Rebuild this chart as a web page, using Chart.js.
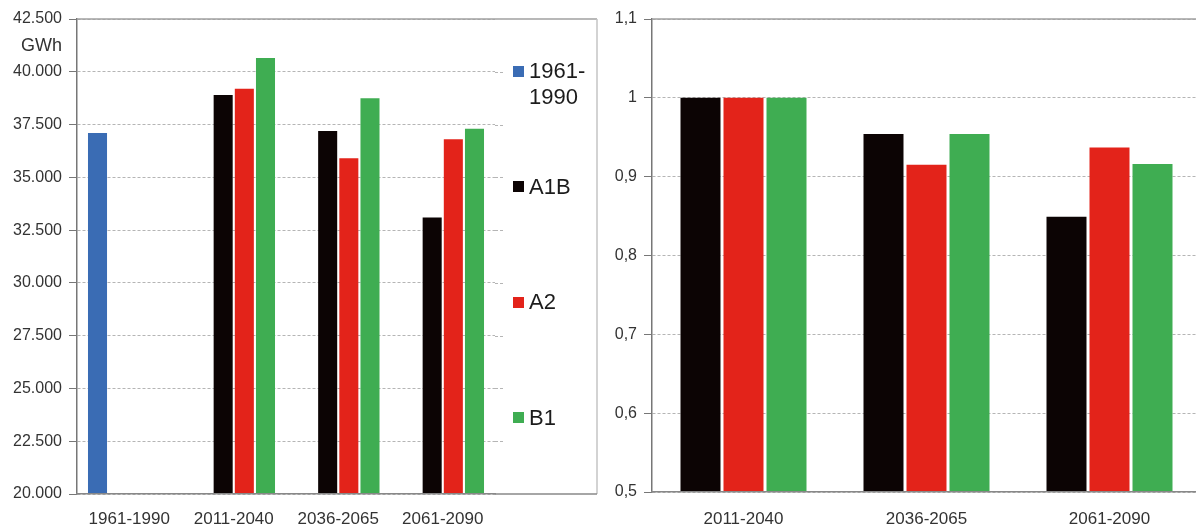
<!DOCTYPE html>
<html>
<head>
<meta charset="utf-8">
<title>GWh scenarios</title>
<script src="https://cdn.jsdelivr.net/npm/chart.js@4.4.1/dist/chart.umd.min.js"></script>
<style>
    html, body { margin: 0; padding: 0; background: #fff; overflow: hidden; }
    #wrap { position: relative; width: 1196px; height: 526px; overflow: hidden; }
    #left { position: absolute; left: 0; top: 0; }
    #right { position: absolute; left: 600px; top: 0; }
    .lg-box { position: absolute; width: 11px; height: 11px; }
    .lg-text { position: absolute; font: 22px "Liberation Sans", Arial, sans-serif; line-height: 26px; color: #1c1c1c; white-space: nowrap; }
</style>
</head>
<body>
<div id="wrap">
    <canvas id="left" width="600" height="526"></canvas>
    <canvas id="right" width="610" height="526"></canvas>
    <div id="legend"></div>
</div>
<script>
// Data
const periods = ['1961-1990', '2011-2040', '2036-2065', '2061-2090'];
const scenarioPeriods = ['2011-2040', '2036-2065', '2061-2090'];
const seriesNames = ['1961-1990', 'A1B', 'A2', 'B1'];

const gwhBaseline = [37100, null, null, null];
const gwhA1B = [null, 38900, 37200, 33100];
const gwhA2 = [null, 39200, 35900, 36800];
const gwhB1 = [null, 40650, 38750, 37300];

const ratioA1B = [1, 0.954, 0.849];
const ratioA2 = [1, 0.915, 0.937];
const ratioB1 = [1, 0.954, 0.916];

const gwhTicks = ['20.000', '22.500', '25.000', '27.500', '30.000', '32.500', '35.000', '37.500', '40.000', '42.500'];
const ratioTicks = ['0,5', '0,6', '0,7', '0,8', '0,9', '1', '1,1'];
const unitLabel = 'GWh';

const seriesColors = ['#3a6cb4', '#0c0404', '#e3231a', '#3fad52'];

Chart.defaults.font.family = '"Liberation Sans", Arial, sans-serif';
Chart.defaults.color = '#333';

// Frame round the left chart (plot + legend)
const leftFrame = {
    id: 'leftFrame',
    afterDraw(chart) {
        const { ctx, chartArea: a, scales } = chart;
        const frameRight = 597;
        ctx.save();
        // short dashed continuation of the gridlines
        ctx.strokeStyle = '#b5b5b5';
        ctx.lineWidth = 1;
        ctx.setLineDash([3, 2]);
        scales.y.ticks.slice(1, -1).forEach(t => {
            const y = Math.round(scales.y.getPixelForValue(t.value)) + 0.5;
            ctx.beginPath();
            ctx.moveTo(a.right, y);
            ctx.lineTo(a.right + 10, y);
            ctx.stroke();
        });
        ctx.setLineDash([]);
        ctx.strokeStyle = '#a0a0a0';
        ctx.lineWidth = 1.5;
        ctx.beginPath();
        ctx.moveTo(a.left, a.top);
        ctx.lineTo(frameRight, a.top);
        ctx.stroke();
        ctx.strokeStyle = '#c4c4c4';
        ctx.beginPath();
        ctx.moveTo(frameRight, a.top);
        ctx.lineTo(frameRight, a.bottom);
        ctx.stroke();
        ctx.strokeStyle = '#888';
        ctx.beginPath();
        ctx.moveTo(a.right, a.bottom);
        ctx.lineTo(frameRight, a.bottom);
        ctx.stroke();
        // unit label
        const y = (scales.y.getPixelForValue(42500) + scales.y.getPixelForValue(40000)) / 2 + 1;
        ctx.fillStyle = '#333';
        ctx.font = '18px "Liberation Sans", Arial, sans-serif';
        ctx.textAlign = 'right';
        ctx.textBaseline = 'middle';
        ctx.fillText(unitLabel, a.left - 15, y);
        ctx.restore();
    }
};

const rightFrame = {
    id: 'rightFrame',
    afterDraw(chart) {
        const { ctx, chartArea: a } = chart;
        ctx.save();
        ctx.strokeStyle = '#a0a0a0';
        ctx.lineWidth = 1.5;
        ctx.beginPath();
        ctx.moveTo(a.left, a.top);
        ctx.lineTo(chart.width, a.top);
        ctx.stroke();
        ctx.restore();
    }
};

function xScale(height, pad) {
    return {
        grid: { display: false, drawTicks: false },
        border: { color: '#888', width: 1.5, z: 1 },
        ticks: { padding: pad, font: { size: 17 }, color: '#333' },
        afterFit: s => { s.height = height; }
    };
}

function yScale(min, max, step, labels, width) {
    return {
        min: min,
        max: max,
        ticks: { stepSize: step, callback: (v, i) => labels[i], padding: 7, font: { size: 16 }, color: '#333' },
        grid: { color: '#b5b5b5', tickColor: '#777', tickLength: 8, lineWidth: 1 },
        border: { color: '#777', width: 1.5, dash: [3, 2] },
        afterFit: s => { s.width = width; }
    };
}

// Left chart: GWh
new Chart(document.getElementById('left'), {
    type: 'bar',
    data: {
        labels: periods,
        datasets: [gwhBaseline, gwhA1B, gwhA2, gwhB1].map((d, i) => ({
            label: seriesNames[i],
            data: d,
            backgroundColor: seriesColors[i],
            barPercentage: 0.9,
            categoryPercentage: 0.81
        }))
    },
    options: {
        responsive: false,
        animation: false,
        layout: { padding: { top: 19, right: 105, left: 0, bottom: 0 } },
        plugins: { legend: { display: false }, tooltip: { enabled: false } },
        scales: {
            x: xScale(32, 15),
            y: yScale(20000, 42500, 2500, gwhTicks, 77)
        }
    },
    plugins: [leftFrame]
});

// Right chart: ratio to 2011-2040
new Chart(document.getElementById('right'), {
    type: 'bar',
    data: {
        labels: scenarioPeriods,
        datasets: [ratioA1B, ratioA2, ratioB1].map((d, i) => ({
            label: seriesNames[i + 1],
            data: d,
            backgroundColor: seriesColors[i + 1],
            barPercentage: 0.93,
            categoryPercentage: 0.705
        }))
    },
    options: {
        responsive: false,
        animation: false,
        layout: { padding: { top: 19, right: 9, left: 0, bottom: 0 } },
        plugins: { legend: { display: false }, tooltip: { enabled: false } },
        scales: {
            x: xScale(34, 17),
            y: yScale(0.5, 1.1, 0.1, ratioTicks, 52)
        }
    },
    plugins: [rightFrame]
});

// Legend for the left chart
const legend = document.getElementById('legend');
seriesNames.forEach((name, i) => {
    const cy = 71 + i * 115.5;
    const box = document.createElement('div');
    box.className = 'lg-box';
    box.style.left = '513px';
    box.style.top = (cy - 5.5) + 'px';
    box.style.background = seriesColors[i];
    legend.appendChild(box);

    const txt = document.createElement('div');
    txt.className = 'lg-text';
    txt.style.left = '529px';
    txt.style.top = (cy - 13) + 'px';
    txt.innerHTML = name.replace('-', '-<br>');
    legend.appendChild(txt);
});
</script>
</body>
</html>
